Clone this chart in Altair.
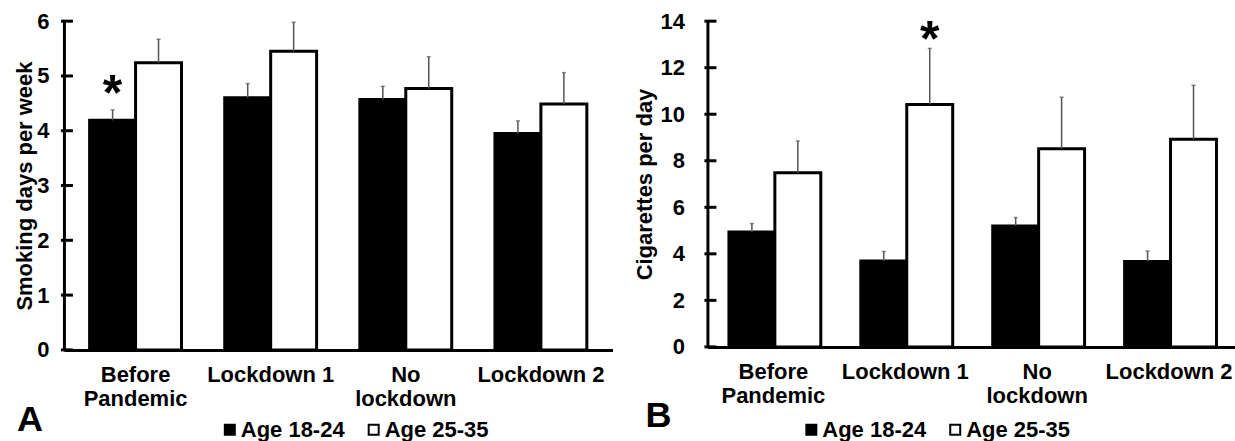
import altair as alt
import pandas as pd

categories = ["Before Pandemic", "Lockdown 1", "No lockdown", "Lockdown 2"]
groups = ["Age 18-24", "Age 25-35"]

# Panel A: smoking days per week (mean and upper error)
days_18_24 = [4.19, 4.60, 4.57, 3.95]
days_18_24_err = [0.19, 0.26, 0.24, 0.23]
days_25_35 = [5.24, 5.45, 4.77, 4.49]
days_25_35_err = [0.43, 0.53, 0.58, 0.57]

# Panel B: cigarettes per day
cig_18_24 = [4.94, 3.69, 5.20, 3.67]
cig_18_24_err = [0.36, 0.41, 0.36, 0.45]
cig_25_35 = [7.49, 10.42, 8.52, 8.92]
cig_25_35_err = [1.36, 2.41, 2.21, 2.32]

ticks_a = [0, 1, 2, 3, 4, 5, 6]
ticks_b = [0, 2, 4, 6, 8, 10, 12, 14]

star_a = {"cat": "Before Pandemic", "grp": "Age 18-24", "val": 4.83}
star_b = {"cat": "Lockdown 1", "grp": "Age 25-35", "val": 13.57}

FONT = "Liberation Sans"
FS = 22


def make_df(a, a_err, b, b_err):
    rows = []
    for i, c in enumerate(categories):
        rows.append(dict(cat=c, grp=groups[0], val=a[i], up=a[i] + a_err[i]))
        rows.append(dict(cat=c, grp=groups[1], val=b[i], up=b[i] + b_err[i]))
    return pd.DataFrame(rows)


label_expr = ("datum.label == 'Before Pandemic' ? ['Before', 'Pandemic'] : "
              "datum.label == 'No lockdown' ? ['No', 'lockdown'] : datum.label")


def panel(df, ymax, ticks, ytitle, star, letter, W, H, pad_in, pad_out,
          lab_pad, title_pad, legx, legy, let_x, let_y):
    xenc = alt.X("cat:N", sort=categories,
                 scale=alt.Scale(paddingInner=pad_in, paddingOuter=pad_out),
                 axis=alt.Axis(title=None, labelAngle=0, ticks=False,
                               domainColor="black", domainWidth=3,
                               labelFont=FONT, labelFontWeight="bold",
                               labelFontSize=FS, labelColor="black",
                               labelPadding=15, labelLineHeight=24,
                               labelExpr=label_expr))
    xoff = alt.XOffset("grp:N", sort=groups,
                       scale=alt.Scale(paddingInner=0, paddingOuter=0))
    yscale = alt.Scale(domain=[0, ymax], nice=False)
    yaxis = alt.Axis(title=ytitle, values=ticks, format="d", ticks=False, grid=False,
                     domainColor="black", domainWidth=3,
                     labelFont=FONT, labelFontWeight="bold", labelFontSize=FS,
                     labelColor="black", labelPadding=lab_pad,
                     titleFont=FONT, titleFontWeight="bold", titleFontSize=FS,
                     titleColor="black", titlePadding=title_pad)

    bars = alt.Chart(df).mark_bar(stroke="black", strokeWidth=3).encode(
        x=xenc, xOffset=xoff,
        y=alt.Y("val:Q", scale=yscale, axis=yaxis),
        fill=alt.Fill("grp:N", sort=groups,
                      scale=alt.Scale(domain=groups, range=["black", "white"]),
                      legend=alt.Legend(title=None, orient="none",
                                        direction="horizontal",
                                        legendX=legx, legendY=legy,
                                        labelFontSize=FS, labelFont=FONT,
                                        labelFontWeight="bold",
                                        labelColor="black",
                                        symbolType="square", symbolSize=100,
                                        symbolStrokeColor="black",
                                        symbolStrokeWidth=2,
                                        labelOffset=0, columnPadding=18,
                                        labelLimit=300)),
    )
    err = alt.Chart(df).mark_rule(color="#555555", strokeWidth=1.5).encode(
        x=alt.X("cat:N", sort=categories), xOffset=alt.XOffset("grp:N", sort=groups),
        y="val:Q", y2="up:Q")
    caps = alt.Chart(df).mark_tick(color="#555555", thickness=1.5, size=4).encode(
        x=alt.X("cat:N", sort=categories), xOffset=alt.XOffset("grp:N", sort=groups),
        y="up:Q")
    stars = alt.Chart(pd.DataFrame([star])).mark_text(
        text="*", font=FONT, fontWeight="bold", fontSize=50, baseline="middle",
        dy=10, color="black").encode(
        x=alt.X("cat:N", sort=categories), xOffset=alt.XOffset("grp:N", sort=groups),
        y="val:Q")
    tick_marks = alt.Chart(pd.DataFrame({"val": ticks})).mark_rule(
        color="black", strokeWidth=3).encode(
        y="val:Q", x=alt.value(-3), x2=alt.value(9))
    letter_mark = alt.Chart(pd.DataFrame({"t": [letter]})).mark_text(
        font=FONT, fontWeight="bold", fontSize=36, align="left",
        baseline="alphabetic", color="black").encode(
        text="t:N", x=alt.value(let_x), y=alt.value(let_y))
    return alt.layer(bars, err, caps, stars, tick_marks, letter_mark).properties(
        width=W, height=H)


df_a = make_df(days_18_24, days_18_24_err, days_25_35, days_25_35_err)
df_b = make_df(cig_18_24, cig_18_24_err, cig_25_35, cig_25_35_err)

left = panel(df_a, 6, ticks_a, "Smoking days per week", star_a, "A",
             549, 329, 0.32, 0.19, 15, 0, 155, 398, -47, 410)
right = panel(df_b, 14, ticks_b, "Cigarettes per day", star_b, "B",
              528, 326, 0.326, 0.163, 23, 4, 93, 398, -62, 406)

chart = alt.hconcat(left, right, spacing=20).resolve_scale(
    fill="independent").resolve_legend(fill="independent").properties(
    padding={"left": 13, "top": 10, "right": 0, "bottom": 0},
    background="white").configure_view(stroke=None)

chart.save("out.html", embed_options={"renderer": "svg", "actions": False})
